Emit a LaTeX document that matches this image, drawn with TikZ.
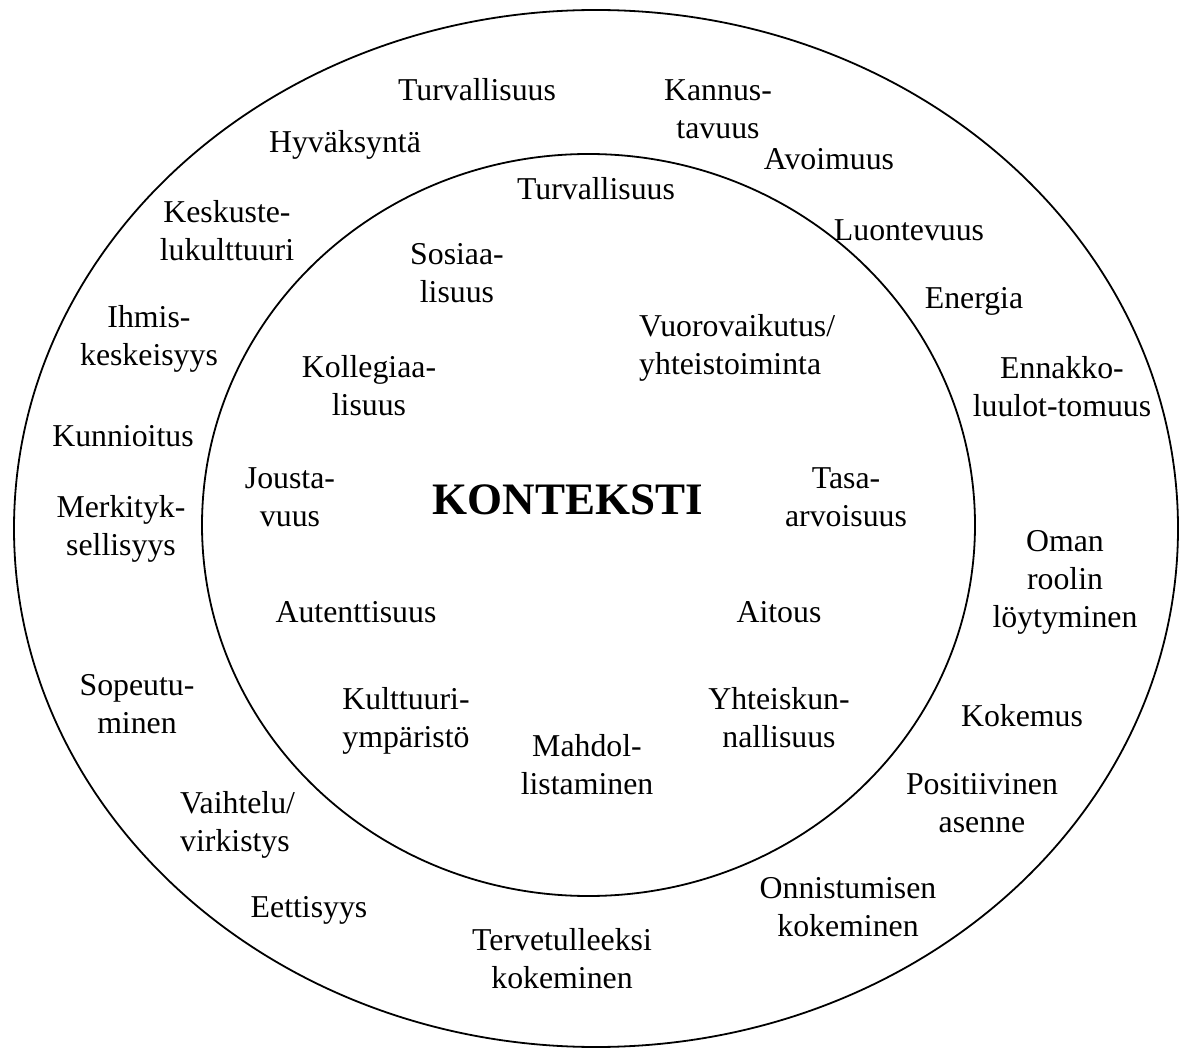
\documentclass[tikz,border=0pt]{standalone}
\usepackage{fontspec}
\setmainfont{Liberation Serif}
\begin{document}
\begin{tikzpicture}[x=1pt,y=-1pt,
  ring/.style={draw=black,line width=1.8pt},
  lbl/.style={inner sep=0pt,anchor=base,align=center,
    font=\fontsize{31.8}{38}\selectfont},
  lbll/.style={lbl,anchor=base west,align=left},
  title/.style={inner sep=0pt,anchor=base,font=\fontsize{45}{52}\selectfont\bfseries}]
\useasboundingbox (0,0) rectangle (1179,1048);

% the two rings
\draw[ring] (596,528.5) ellipse [x radius=582, y radius=518.5];
\draw[ring] (588.5,525) ellipse [x radius=386.5, y radius=371];

% centre (multi-line labels sit on the baseline of their last line)
\node[title] (konteksti) at (568,515) {KONTEKSTI};

% inner ring
\node[lbl] (i1) at (596,200) {Turvallisuus};
\node[lbl] (i2) at (457,303) {Sosiaa-\\lisuus};
\node[lbll] (i3) at (639,375) {Vuorovaikutus/\\yhteistoiminta};
\node[lbl] (i4) at (369,416) {Kollegiaa-\\lisuus};
\node[lbl] (i5) at (290,526) {Jousta-\\vuus};
\node[lbl] (i6) at (846,526) {Tasa-\\arvoisuus};
\node[lbl] (i7) at (356,622) {Autenttisuus};
\node[lbl] (i8) at (779,622) {Aitous};
\node[lbl] (i9) at (406,747) {Kulttuuri-\\ympäristö};
\node[lbl] (i10) at (779,747) {Yhteiskun-\\nallisuus};
\node[lbl] (i11) at (587,794) {Mahdol-\\listaminen};

% outer ring
\node[lbl] (o1) at (477,101) {Turvallisuus};
\node[lbl] (o2) at (718,139) {Kannus-\\tavuus};
\node[lbl] (o3) at (345,153) {Hyväksyntä};
\node[lbl] (o4) at (829,170) {Avoimuus};
\node[lbl] (o5) at (227,261) {Keskuste-\\lukulttuuri};
\node[lbl] (o6) at (909,241) {Luontevuus};
\node[lbl] (o7) at (974,309) {Energia};
\node[lbl] (o8) at (149,366) {Ihmis-\\keskeisyys};
\node[lbl] (o9) at (1062,417) {Ennakko-\\luulot-tomuus};
\node[lbl] (o10) at (123,447) {Kunnioitus};
\node[lbl] (o11) at (121,555) {Merkityk-\\sellisyys};
\node[lbl] (o12) at (1065,627) {Oman\\roolin\\löytyminen};
\node[lbl] (o13) at (137,733) {Sopeutu-\\minen};
\node[lbl] (o14) at (1022,726) {Kokemus};
\node[lbl] (o15) at (982,832) {Positiivinen\\asenne};
\node[lbll] (o16) at (180,851) {Vaihtelu/\\virkistys};
\node[lbl] (o17) at (848,936) {Onnistumisen\\kokeminen};
\node[lbl] (o18) at (309,917) {Eettisyys};
\node[lbl] (o19) at (562,988) {Tervetulleeksi\\kokeminen};
\end{tikzpicture}
\end{document}
